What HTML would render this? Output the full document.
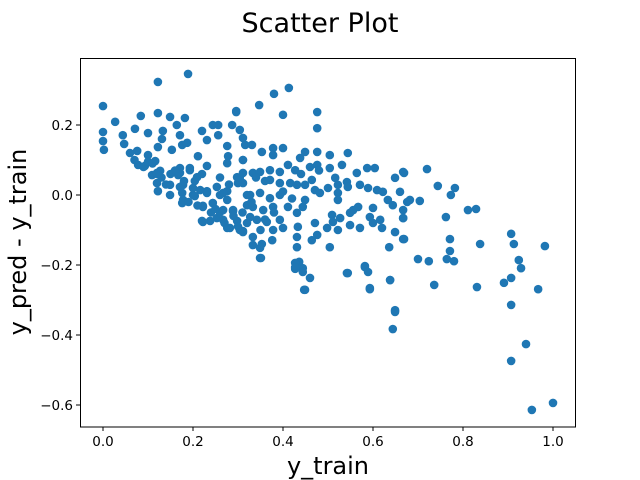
<!DOCTYPE html>
<html><head><meta charset="utf-8"><style>
html,body{margin:0;padding:0;background:#fff;}
svg{display:block;font-family:"DejaVu Sans","Liberation Sans",sans-serif;}
</style></head><body>
<svg id="chart" width="640" height="480">
<text x="320" y="32" font-size="27" text-anchor="middle">Scatter Plot</text>
<text x="328" y="474" font-size="24" text-anchor="middle">y_train</text>
<text x="26" y="242" font-size="24" text-anchor="middle" transform="rotate(-90 26 242)">y_pred - y_train</text>
<g id="marks"></g>
<g id="axes"></g>
<rect x="80.5" y="58.5" width="495" height="368.5" fill="none" stroke="#000" stroke-width="1"/>
</svg>
<script>
const xVals=[0.669,0.72,0.744,0.782,0.773,0.704,0.682,0.667,0.667,0.762,0.811,0.829,0.669,0.771,0.771,0.764,0.7,0.724,0.78,0.838,0.736,0.831,0.907,0.913,0.924,0.929,0.891,0.907,0.982,0.967,0.907,0.94,0.907,0.953,1.0,0.644,0.649,0.638,0.593,0.582,0.544,0.444,0.436,0.447,0.427,0.353,0.351,
0.189,0.122,0.413,0.38,0.347,0.476,0.476,0.4,0.0,0.296,
0.027,0.084,0.122,0.149,0.182,0.296,0.0,0.0,0.002,0.044,0.047,0.071,0.1,0.133,0.131,0.164,0.171,0.122,0.153,0.176,0.187,0.22,0.231,0.244,0.256,0.256,0.287,0.304,0.311,0.276,0.278,0.276,0.311,0.211,0.231,0.171,0.193,0.076,0.1,0.078,0.093,0.116,0.127,0.109,0.12,0.122,0.149,0.149,0.167,0.178,0.176,0.176,0.204,0.216,0.231,0.204,0.222,0.244,0.26,0.276,0.267,0.289,0.22,0.238,0.253,0.276,0.298,0.311,0.304,0.32,0.32,0.3,
0.316,0.331,0.353,0.378,0.378,0.4,0.449,0.438,0.476,0.476,0.504,0.544,0.504,0.531,0.564,0.587,0.604,0.649,0.667,0.311,0.311,0.333,0.349,0.371,0.371,0.393,0.411,0.427,0.393,0.431,0.449,0.464,0.471,0.482,0.5,0.516,0.522,0.522,0.542,0.544,0.522,0.571,0.589,0.609,0.622,0.633,0.644,0.66,0.676,0.6,0.556,0.567,0.549,0.509,0.471,0.498,0.511,0.527,0.522,0.549,0.571,0.593,0.6,0.616,0.62,0.649,0.667,0.667,0.636,0.504,0.476,0.464,0.449,0.444,0.411,0.431,0.433,0.431,0.431,0.393,0.4,0.378,0.376,0.349,0.333,0.349,0.311,0.333,0.342,0.364,0.333,0.356,0.378,0.327,0.349,0.371,0.393,0.416,0.327,0.427,0.427,0.444,0.46,0.449,0.542,0.582,0.589,0.593,0.638,0.649,
0.171,0.193,0.209,0.171,0.178,0.2,0.231,0.253,0.267,0.276,0.222,0.244,0.26,0.289,0.222,0.267,0.282,0.304,0.32,0.298,0.311,0.12,
0.07,0.09,0.1,0.06,0.13,0.14,0.15,0.18,0.16,0.2,0.19,0.21,0.24,0.25,0.22,0.27,0.29,0.3,0.35,0.36,0.38,0.34,0.36,0.4,0.42,0.33,0.31,0.28,0.26,0.12,0.11,0.44,0.46,0.48];
const yVals=[0.063,0.074,0.026,0.02,0.0,-0.017,-0.014,-0.043,-0.066,-0.063,-0.043,-0.04,-0.126,-0.126,-0.16,-0.183,-0.183,-0.189,-0.189,-0.14,-0.257,-0.263,-0.111,-0.14,-0.186,-0.209,-0.251,-0.237,-0.146,-0.269,-0.314,-0.426,-0.474,-0.614,-0.594,-0.383,-0.334,-0.243,-0.269,-0.206,-0.223,-0.209,-0.191,-0.271,-0.211,-0.14,-0.18,
0.346,0.323,0.306,0.289,0.257,0.237,0.191,0.229,0.254,0.237,
0.209,0.226,0.234,0.223,0.22,0.24,0.18,0.154,0.129,0.171,0.146,0.189,0.177,0.183,0.16,0.2,0.171,0.137,0.129,0.143,0.149,0.183,0.157,0.2,0.2,0.171,0.2,0.186,0.163,0.14,0.111,0.091,0.1,0.111,0.083,0.077,0.077,0.126,0.114,0.086,0.083,0.097,0.069,0.057,0.034,0.011,0.029,0.0,0.057,0.029,0.006,-0.023,0.04,0.014,0.011,-0.003,-0.031,-0.023,0.0,0.011,-0.043,-0.046,-0.074,-0.074,-0.066,-0.094,-0.074,-0.103,0.049,-0.029,0.0,0.034,
0.143,0.143,0.123,0.134,0.114,0.134,0.123,0.106,0.123,0.086,0.114,0.12,0.077,0.086,0.063,0.077,0.077,0.049,0.066,0.1,0.063,0.063,0.066,0.071,0.043,0.066,0.086,0.071,0.034,0.029,0.029,0.043,0.014,0.006,0.02,0.049,0.029,0.006,0.037,0.023,-0.014,0.029,0.02,0.014,0.009,-0.014,-0.029,0.009,-0.02,-0.037,-0.043,-0.034,-0.051,-0.057,-0.08,-0.094,-0.077,-0.066,-0.1,-0.086,-0.094,-0.063,-0.08,-0.071,-0.094,-0.106,-0.066,-0.126,-0.149,-0.149,-0.114,-0.129,-0.014,-0.034,-0.034,-0.051,-0.091,-0.12,-0.149,-0.071,-0.094,-0.1,-0.129,-0.151,-0.143,-0.18,-0.106,-0.12,-0.071,-0.077,-0.034,-0.043,-0.034,0.0,0.006,-0.009,0.0,0.034,-0.063,-0.194,-0.207,-0.22,-0.237,-0.271,-0.223,-0.203,-0.22,-0.266,-0.243,-0.329,
0.063,0.071,0.051,0.023,-0.014,0.0,0.006,0.023,0.006,-0.014,-0.034,-0.023,-0.049,-0.043,-0.077,-0.071,-0.094,-0.1,-0.08,0.051,0.034,0.063,
0.1,0.08,0.095,0.12,0.05,0.03,0.06,0.04,0.07,0.02,-0.02,-0.03,-0.05,-0.04,0.06,-0.08,-0.06,-0.09,-0.1,-0.07,-0.05,0.05,0.04,0.01,-0.01,-0.02,-0.05,0.03,0.05,0.06,0.09,0.06,0.08,0.07];
const xTicks=[0.0,0.2,0.4,0.6,0.8,1.0];
const xTickLabels=["0.0","0.2","0.4","0.6","0.8","1.0"];
const yTicks=[-0.6,-0.4,-0.2,0.0,0.2];
const yTickLabels=["\u22120.6","\u22120.4","\u22120.2","0.0","0.2"];
const sx=v=>103+v*450;
const sy=v=>195-v*350;
const NS="http://www.w3.org/2000/svg";
const marks=document.getElementById('marks');
for(let i=0;i<xVals.length;i++){
  const c=document.createElementNS(NS,'circle');
  c.setAttribute('cx',sx(xVals[i]));c.setAttribute('cy',sy(yVals[i]));
  c.setAttribute('r',4.3);c.setAttribute('fill','#1f77b4');
  
  
  marks.appendChild(c);
}
const axes=document.getElementById('axes');
xTicks.forEach((t,i)=>{
  const l=document.createElementNS(NS,'line');
  l.setAttribute('x1',sx(t));l.setAttribute('x2',sx(t));l.setAttribute('y1',427);l.setAttribute('y2',431);l.setAttribute('stroke','#000');
  
  
  axes.appendChild(l);
  const tx=document.createElementNS(NS,'text');
  tx.setAttribute('x',sx(t));tx.setAttribute('y',446);tx.setAttribute('font-size','13.5');tx.setAttribute('text-anchor','middle');
  tx.textContent=xTickLabels[i];
  
  
  axes.appendChild(tx);
});
yTicks.forEach((t,i)=>{
  const l=document.createElementNS(NS,'line');
  l.setAttribute('x1',76);l.setAttribute('x2',80);l.setAttribute('y1',sy(t));l.setAttribute('y2',sy(t));l.setAttribute('stroke','#000');
  
  
  axes.appendChild(l);
  const tx=document.createElementNS(NS,'text');
  tx.setAttribute('x',73);tx.setAttribute('y',sy(t)+5);tx.setAttribute('font-size','13.5');tx.setAttribute('text-anchor','end');
  tx.textContent=yTickLabels[i];
  
  
  axes.appendChild(tx);
});
</script>
</body></html>
